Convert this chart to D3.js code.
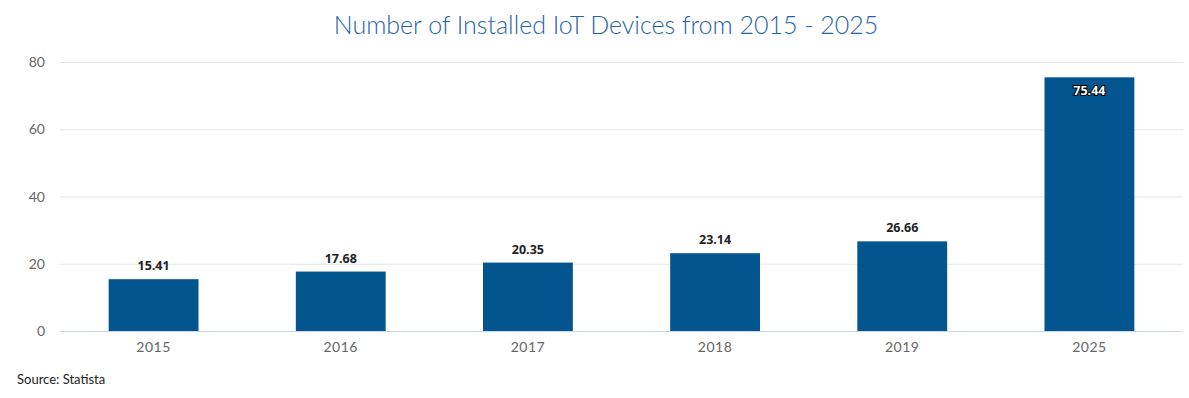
<!DOCTYPE html>
<html>
<head>
<meta charset="utf-8">
<script src="https://cdn.jsdelivr.net/npm/d3@7"></script>
<style>
  body { margin: 0; background: #fff; font-family: Lato, "Open Sans", sans-serif; }
  .grid line { stroke: #e6e6e6; }
  .grid .domain { display: none; }
</style>
</head>
<body>
<div id="chart"></div>
<script>
const years = ['2015', '2016', '2017', '2018', '2019', '2025'];
const devices = [15.41, 17.68, 20.35, 23.14, 26.66, 75.44];
const yTicks = [0, 20, 40, 60, 80];

const width = 1189, height = 398;
const margin = { top: 62, right: 6, bottom: 67, left: 60 };

const svg = d3.select('#chart').append('svg')
    .attr('width', width)
    .attr('height', height);

// titulo
svg.append('text')
    .attr('x', 606)
    .attr('y', 34)
    .attr('text-anchor', 'middle')
    .style('font-family', 'Lato, sans-serif')
    .style('font-weight', 300)
    .style('font-size', '25px')
    .style('fill', '#1f65a6')
    .text('Number of Installed IoT Devices from 2015 - 2025');

const x = d3.scaleBand()
    .domain(years)
    .range([margin.left, width - margin.right])
    .paddingInner(0.52)
    .paddingOuter(0.26);

const y = d3.scaleLinear()
    .domain([0, 80])
    .range([height - margin.bottom, margin.top]);

// lineas de la cuadricula
svg.append('g')
    .attr('class', 'grid')
    .attr('transform', `translate(${margin.left},0)`)
    .call(d3.axisLeft(y).tickValues(yTicks.slice(1)).tickSize(-(width - margin.left - margin.right)).tickFormat(''));

// etiquetas del eje y
svg.selectAll('text.ytick')
    .data(yTicks)
    .enter().append('text')
    .attr('class', 'ytick')
    .attr('x', 45)
    .attr('y', d => y(d) + 5)
    .attr('text-anchor', 'end')
    .style('font-size', '14px')
    .style('fill', '#666')
    .text(d => d);

// barras
svg.selectAll('rect.bar')
    .data(years)
    .enter().append('rect')
    .attr('class', 'bar')
    .attr('x', d => x(d))
    .attr('y', (d, i) => y(devices[i]))
    .attr('width', x.bandwidth())
    .attr('height', (d, i) => y(0) - y(devices[i]))
    .style('fill', '#02558f');

// linea base
svg.append('line')
    .attr('x1', margin.left)
    .attr('x2', width - margin.right)
    .attr('y1', y(0) + 0.5)
    .attr('y2', y(0) + 0.5)
    .style('stroke', '#ccd6eb');

// etiquetas del eje x
svg.selectAll('text.xtick')
    .data(years)
    .enter().append('text')
    .attr('class', 'xtick')
    .attr('x', d => x(d) + x.bandwidth() / 2)
    .attr('y', y(0) + 21)
    .attr('text-anchor', 'middle')
    .style('font-size', '14px')
    .style('letter-spacing', '0.5px')
    .style('fill', '#666')
    .text(d => d);

// valores
svg.selectAll('text.valor')
    .data(years)
    .enter().append('text')
    .attr('class', 'valor')
    .attr('x', d => x(d) + x.bandwidth() / 2)
    .attr('y', (d, i) => {
        const top = y(devices[i]);
        return top < 120 ? top + 18 : top - 9;
    })
    .attr('text-anchor', 'middle')
    .style('font-family', '"Open Sans", sans-serif')
    .style('font-size', '12.5px')
    .style('font-weight', 'bold')
    .style('fill', (d, i) => y(devices[i]) < 120 ? '#fff' : '#222')
    .style('stroke', (d, i) => y(devices[i]) < 120 ? '#000' : 'none')
    .style('stroke-width', 2)
    .style('paint-order', 'stroke')
    .text((d, i) => devices[i].toFixed(2));

// fuente
svg.append('text')
    .attr('x', 17)
    .attr('y', 384)
    .style('font-size', '13px')
    .style('fill', '#222')
    .text('Source: Statista');
</script>
</body>
</html>
